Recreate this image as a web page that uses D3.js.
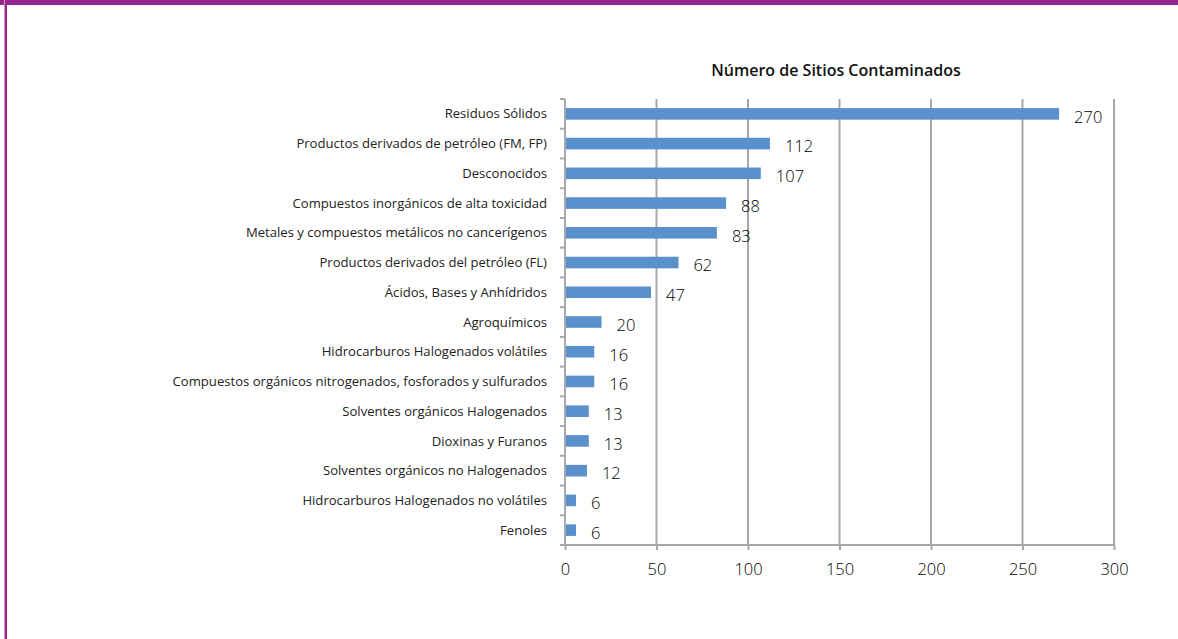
<!DOCTYPE html>
<html>
<head>
<meta charset="utf-8">
<script src="https://cdn.jsdelivr.net/npm/d3@7"></script>
<style>
  body { margin: 0; background: #fff; }
  svg text { font-family: "Open Sans", "Noto Sans", sans-serif; }
</style>
</head>
<body>
<div id="chart"></div>
<script>
// data
var categories = [
  "Residuos Sólidos",
  "Productos derivados de petróleo (FM, FP)",
  "Desconocidos",
  "Compuestos inorgánicos de alta toxicidad",
  "Metales y compuestos metálicos no cancerígenos",
  "Productos derivados del petróleo (FL)",
  "Ácidos, Bases y Anhídridos",
  "Agroquímicos",
  "Hidrocarburos Halogenados volátiles",
  "Compuestos orgánicos nitrogenados, fosforados y sulfurados",
  "Solventes orgánicos Halogenados",
  "Dioxinas y Furanos",
  "Solventes orgánicos no Halogenados",
  "Hidrocarburos Halogenados no volátiles",
  "Fenoles"
];
var values = [270, 112, 107, 88, 83, 62, 47, 20, 16, 16, 13, 13, 12, 6, 6];
var xTicks = [0, 50, 100, 150, 200, 250, 300];
var title = "Número de Sitios Contaminados";

var svgWidth = 1178;
var svgHeight = 639;

var margin = { top: 99, right: 64, bottom: 94, left: 565 };
var width = svgWidth - margin.left - margin.right;
var height = svgHeight - margin.top - margin.bottom;

var svg = d3.select("#chart").append("svg")
  .attr("width", svgWidth)
  .attr("height", svgHeight);

// frame (purple top + left edge)
svg.append("rect").attr("x", 0).attr("y", 0).attr("width", svgWidth).attr("height", 5).attr("fill", "#93278f");
svg.append("rect").attr("x", 4).attr("y", 0).attr("width", 1).attr("height", svgHeight).attr("fill", "#c99ac6");
svg.append("rect").attr("x", 5).attr("y", 0).attr("width", 2).attr("height", svgHeight).attr("fill", "#93278f");

var chartGroup = svg.append("g")
  .attr("transform", `translate(${margin.left}, ${margin.top})`);

var data = categories.map(function(c, i) { return { name: c, value: values[i] }; });

// scales
var xScale = d3.scaleLinear().domain([0, 300]).range([0, width]);
var yScale = d3.scaleBand().domain(categories).range([0, height]).paddingInner(0.61).paddingOuter(0.305);

// gridlines
chartGroup.selectAll(".grid")
  .data(xTicks.slice(1))
  .enter()
  .append("line")
  .attr("x1", d => xScale(d)).attr("x2", d => xScale(d))
  .attr("y1", 0).attr("y2", height)
  .attr("stroke", "#a6a8ab")
  .attr("stroke-width", 2);

// bars
chartGroup.selectAll(".bar")
  .data(data)
  .enter()
  .append("rect")
  .attr("x", 0)
  .attr("y", d => yScale(d.name))
  .attr("width", d => xScale(d.value))
  .attr("height", yScale.bandwidth())
  .attr("fill", "#5a91cd");

// value labels
chartGroup.selectAll(".val")
  .data(data)
  .enter()
  .append("text")
  .attr("x", d => xScale(d.value) + 15)
  .attr("y", d => yScale(d.name) + yScale.bandwidth() / 2 + 3)
  .attr("dy", "0.35em")
  .attr("font-size", "16.5px")
  .attr("font-weight", 300)
  .attr("fill", "#000")
  .text(d => d.value);

// x axis
var xAxis = d3.axisBottom(xScale).tickValues(xTicks).tickSize(5).tickPadding(13);
var gx = chartGroup.append("g")
  .attr("transform", `translate(0, ${height})`)
  .call(xAxis);
gx.select(".domain").attr("stroke", "#a6a8ab").attr("stroke-width", 2).attr("d", `M0,0H${width}`);
gx.selectAll(".tick line").attr("stroke", "#a6a8ab").attr("stroke-width", 2);
gx.selectAll(".tick text").attr("font-size", "16.5px").attr("font-weight", 300).attr("fill", "#000");

// y axis: ticks at band boundaries
var bounds = d3.range(categories.length + 1).map(i => i * height / categories.length);
chartGroup.append("line")
  .attr("x1", 0).attr("x2", 0).attr("y1", 0).attr("y2", height)
  .attr("stroke", "#a6a8ab").attr("stroke-width", 2);
chartGroup.selectAll(".ytick")
  .data(bounds)
  .enter()
  .append("line")
  .attr("x1", -5).attr("x2", 0)
  .attr("y1", d => d).attr("y2", d => d)
  .attr("stroke", "#a6a8ab").attr("stroke-width", 2);

chartGroup.selectAll(".ylab")
  .data(data)
  .enter()
  .append("text")
  .attr("x", -18)
  .attr("y", d => yScale(d.name) + yScale.bandwidth() / 2)
  .attr("dy", "0.35em")
  .attr("text-anchor", "end")
  .attr("font-size", "13.1px")
  .attr("fill", "#222")
  .text(d => d.name);

// title
svg.append("text")
  .attr("x", 836)
  .attr("y", 76)
  .attr("text-anchor", "middle")
  .attr("font-size", "16px")
  .attr("font-weight", 600)
  .attr("fill", "#111")
  .text(title);
</script>
</body>
</html>
